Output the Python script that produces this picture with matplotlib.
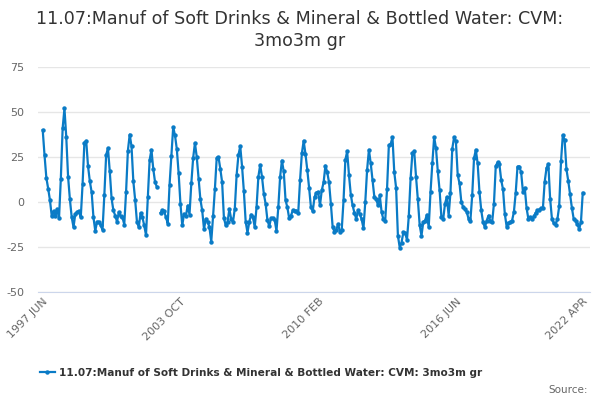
import numpy as np
import matplotlib
matplotlib.use("Agg")
import matplotlib.pyplot as plt

start_year, start_month = 1997, 6
values = [
    40, 26, 13.5, 7.5, 1, -8, -5, -8, -4, -9, 13, 41,
    52, 36, 14, 1.5, -8.5, -14, -6.5, -5.5, -5, -8.5, 10, 33,
    34, 20, 11.5, 5.5, -8.5, -16, -11, -11, -13, -15.5, 3.7, 26,
    30, 17, 2, -4.7, -7.5, -11, -5.6, -8, -8.5, -12.5, 5.6, 28.5,
    37.5, 31, 11.6, 1.3, -11, -14, -6.2, -8.4, -13, -18.4, 3, 23.4,
    29, 18.4, 11, 8.4, np.nan, -6, -4.7, -5.2, -8.4, -12, 9.7, 25.8,
    41.6, 37, 29.4, 16, -1, -13, -6.6, -7.9, -2, -7, 10.3, 24.3,
    32.8, 25, 13, 1.5, -4.7, -15, -9.4, -11, -14, -22, -8, 7,
    24.3, 25, 18.4, 11, -9, -13, -11, -4, -9.4, -11, -3.7, 15,
    26, 31, 19.7, 6, -11, -17, -11, -7, -8.4, -14, -2.8, 14,
    20.6, 14, 4.7, -1, -10, -13.5, -9, -9, -10, -16, -3, 14,
    23, 17, 1, -3, -9, -7.5, -4.7, -5.2, -5.2, -6, 12, 27,
    34, 26.6, 17.8, 7.9, -2.8, -5.2, 2.8, 5.2, 5.6, -1.9, 6.6, 10.9,
    20.2, 16.5, 10.9, -0.9, -14, -16.5, -15.4, -12.2, -16.5, -15.4, 0.9, 23.4,
    28.1, 15, 4.1, -1.9, -6, -9.4, -4.7, -6.6, -9.7, -14.6, 0, 17.8,
    29, 21.5, 12.2, 2.8, 1.9, -1.9, 3.7, -5.6, -9.7, -10.3, 7.1, 31.5,
    32.2, 36, 16.5, 7.9, -18.7, -25.3, -22.5, -16.9, -17.2, -21, -7.9, 13.1,
    27.2, 28.1, 14, 1.5, -12.7, -18.7, -11.2, -10.3, -7.1, -14, 5.6, 21.5,
    36, 30, 17.2, 6.6, -8.4, -9.4, -0.9, 2.8, -7.5, 5.2, 29.6, 36,
    33.7, 15, 10.3, 0, -2.8, -4.1, -5.6, -9.4, -10.3, 3.7, 24.3, 29,
    21.5, 5.6, -4.7, -11.3, -14, -10.3, -7.5, -10.7, -11.3, -0.9, 20, 22,
    21, 12.2, 7, -6.6, -13.7, -11.8, -11.3, -10.3, -5.6, 5.1, 19.7, 19.7,
    16.5, 5.6, 7.9, -3.4, -9.4, -8.5, -9.4, -8, -6, -4.7, -4.3, -3.4,
    -3.6, 11.3, 18.8, 21.2, 1.9, -9.4, -11.8, -12.6, -9.6, -2.4, 22.6, 37.2,
    34.4, 18.2, 11.7, 4.3, -3.2, -9.4, -10.3, -12.2, -15, -11.3, 5.1,
]
tick_labels = ["1997 JUN", "2003 OCT", "2010 FEB", "2016 JUN", "2022 APR"]
tick_positions = [0, 76, 152, 228, 298]
y_ticks = [-50, -25, 0, 25, 50, 75]
series_name = "11.07:Manuf of Soft Drinks & Mineral & Bottled Water: CVM: 3mo3m gr"
title = "11.07:Manuf of Soft Drinks & Mineral & Bottled Water: CVM:\n3mo3m gr"

plt.rcParams['font.family'] = ['DejaVu Sans']
fig = plt.figure(figsize=(6, 4), dpi=100)
ax = fig.add_axes([38/600, 1-292/400, (590-38)/600, (292-67)/400])

x = np.arange(len(values))
color = '#0a7bc6'
line, = ax.plot(x, values, color=color, lw=1.6, marker='o', ms=3.2,
                markeredgewidth=0, label=series_name)

ax.set_xlim(-2.6, 302)
ax.set_ylim(-50, 75)
ax.set_yticks(y_ticks)
ax.set_yticklabels([str(v) for v in y_ticks], color='#666666', fontsize=8)
ax.grid(axis='y', color='#e6e6e6', lw=1)
ax.set_axisbelow(True)
for s in ['top', 'right', 'left']:
    ax.spines[s].set_visible(False)
ax.spines['bottom'].set_color('#ccd6eb')
ax.tick_params(axis='y', length=0, pad=10)
ax.tick_params(axis='x', length=0, pad=3)
ax.set_xticks(tick_positions)
ax.set_xticklabels(tick_labels, rotation=45, ha='right', rotation_mode='anchor',
                   color='#666666', fontsize=8)

fig.text(0.5, 1-30/400, title, ha='center', va='center', fontsize=12.6,
         color='#333333', linespacing=1.25)

leg = fig.legend(handles=[line], loc='center', bbox_to_anchor=(0.435, 1-373/400),
                 frameon=False, fontsize=7.6, handlelength=1.4, handletextpad=0.4)
for t in leg.get_texts():
    t.set_color('#333333')
    t.set_fontweight('bold')

fig.text(588/600, 1-390/400, "Source:", ha='right', va='center', fontsize=7.5,
         color='#666666')

fig.savefig('out.png', dpi=100)
